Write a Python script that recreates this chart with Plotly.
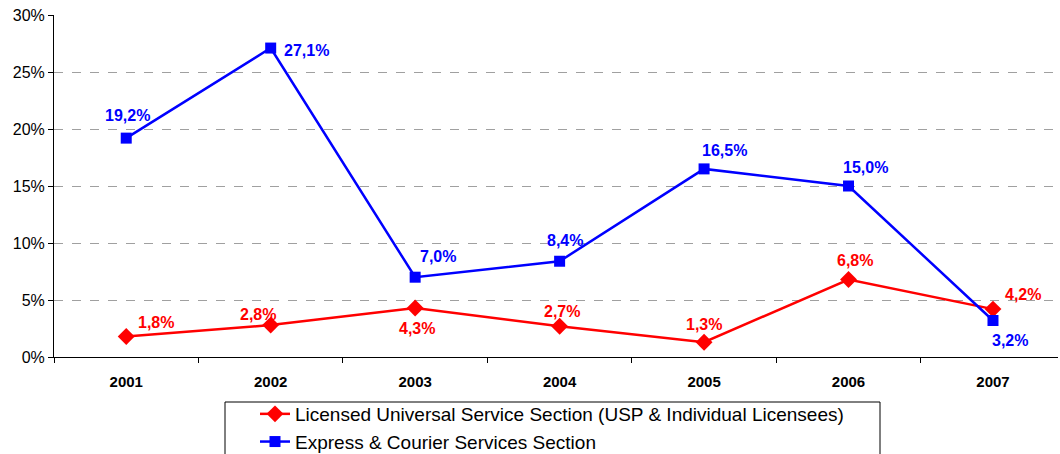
import plotly.graph_objects as go

years = ["2001", "2002", "2003", "2004", "2005", "2006", "2007"]
usp = [1.8, 2.8, 4.3, 2.7, 1.3, 6.8, 4.2]
courier = [19.2, 27.1, 7.0, 8.4, 16.5, 15.0, 3.2]

usp_name = "Licensed Universal Service Section (USP & Individual Licensees)"
courier_name = "Express & Courier Services Section"

RED = "#ff0000"
BLUE = "#0000ff"

# label offsets (px) for each point's value label
usp_shift = [(30, 14), (-13, 11), (2, -21), (2, 15), (0, 18), (6, 19), (30, 15)]
courier_shift = [(1, 23), (36, -2), (23, 21), (5, 21), (20, 18), (17, 19), (17, -20)]

xs = list(range(len(years)))

fig = go.Figure()
fig.add_trace(go.Scatter(
    x=xs, y=usp, name=usp_name, mode="lines+markers",
    line=dict(color=RED, width=2.5),
    marker=dict(symbol="diamond", size=13, color=RED),
))
fig.add_trace(go.Scatter(
    x=xs, y=courier, name=courier_name, mode="lines+markers",
    line=dict(color=BLUE, width=2.5),
    marker=dict(symbol="square", size=11, color=BLUE),
))

def fmt(v):
    return f"{v:.1f}".replace(".", ",") + "%"

for vals, shifts, col in ((usp, usp_shift, RED), (courier, courier_shift, BLUE)):
    for i, v in enumerate(vals):
        fig.add_annotation(
            x=i, y=v, text=fmt(v), showarrow=False,
            xshift=shifts[i][0], yshift=shifts[i][1],
            font=dict(family="Liberation Sans, Arial", size=16, color=col, weight="bold"),
        )

# legend frame
fig.add_shape(
    type="rect", xref="paper", yref="paper",
    x0=(225 - 54) / 1004, x1=(880 - 54) / 1004,
    y0=(357 - 402) / 342, y1=(357 - 470) / 342,
    line=dict(color="black", width=1), fillcolor="rgba(0,0,0,0)",
)

fig.update_layout(
    width=1060, height=454,
    margin=dict(l=54, r=2, t=15, b=97, autoexpand=False),
    plot_bgcolor="white", paper_bgcolor="white",
    font=dict(family="Liberation Sans, Arial", color="black"),
    showlegend=True,
    legend=dict(
        x=(255 - 54) / 1004, y=(357 - 395) / 342, xanchor="left", yanchor="top",
        font=dict(size=19, color="black"), bgcolor="rgba(0,0,0,0)",
        tracegroupgap=0, itemwidth=30,
    ),
    xaxis=dict(
        range=[-0.5, 6.45], tickvals=xs, ticktext=years,
        tickfont=dict(size=15, weight="bold"),
        showline=True, linecolor="black", linewidth=1,
        showgrid=False, zeroline=False, ticks="",
        ticklabelstandoff=11,
        minor=dict(tick0=0.5, dtick=1, ticks="outside", ticklen=5,
                   tickcolor="black", showgrid=False),
    ),
    yaxis=dict(
        range=[0, 30], tickvals=[0, 5, 10, 15, 20, 25, 30],
        ticktext=["0%", "5%", "10%", "15%", "20%", "25%", "30%"],
        tickfont=dict(size=16),
        showline=True, linecolor="black", linewidth=1,
        ticks="outside", ticklen=5, tickcolor="black",
        showgrid=True, gridcolor="#a0a0a0", griddash="dash", gridwidth=1,
        zeroline=False,
    ),
)

fig.write_html("out.html")
